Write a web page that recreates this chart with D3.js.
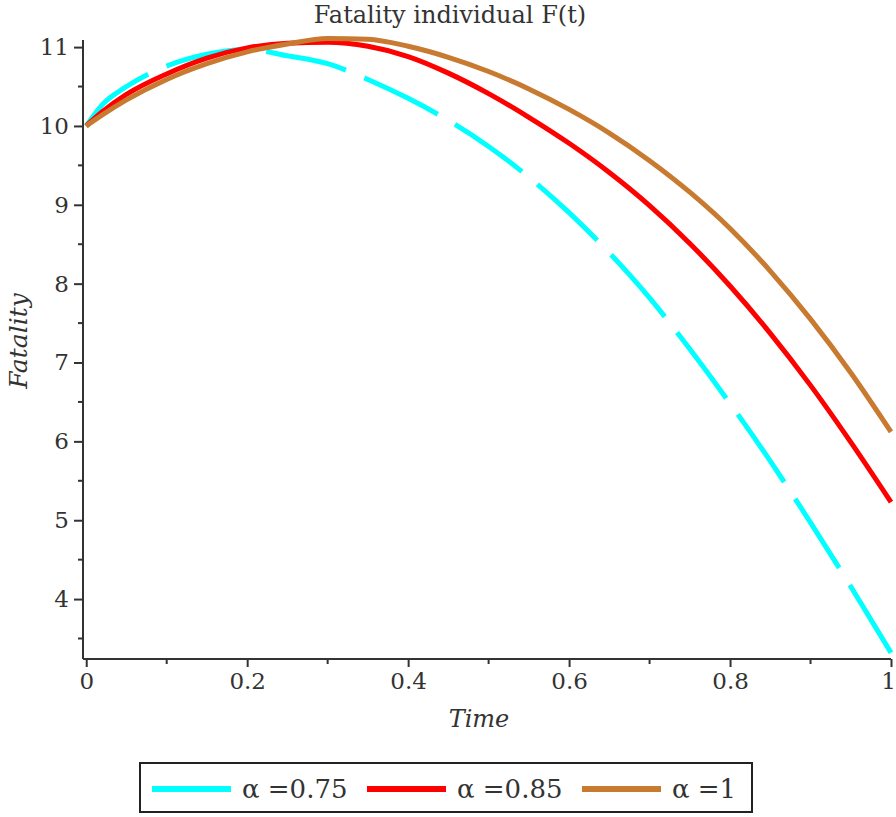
<!DOCTYPE html>
<html>
<head>
<meta charset="utf-8">
<script src="https://cdn.jsdelivr.net/npm/d3@7"></script>
<style>
  html, body { margin: 0; padding: 0; background: #fff; }
</style>
</head>
<body>
<svg id="chart" width="896" height="817"></svg>
<script>
const times = [0, 0.02, 0.05, 0.1, 0.15, 0.2, 0.25, 0.3, 0.35, 0.4, 0.45, 0.5, 0.55, 0.6, 0.65, 0.7, 0.75, 0.8, 0.85, 0.9, 0.95, 1];
const alpha075 = [10.0, 10.27, 10.50, 10.76, 10.91, 10.97, 10.89, 10.79, 10.59, 10.35, 10.07, 9.74, 9.35, 8.90, 8.39, 7.82, 7.17, 6.48, 5.75, 4.97, 4.16, 3.32];
const alpha085 = [10.0, 10.18, 10.40, 10.66, 10.86, 10.99, 11.05, 11.06, 11.01, 10.88, 10.67, 10.41, 10.11, 9.78, 9.41, 8.99, 8.51, 7.97, 7.37, 6.71, 5.99, 5.23];
const alpha1 = [10.0, 10.14, 10.33, 10.59, 10.79, 10.94, 11.04, 11.11, 11.10, 11.01, 10.87, 10.69, 10.47, 10.21, 9.91, 9.56, 9.16, 8.70, 8.16, 7.55, 6.87, 6.12];
const seriesNames = ["\u03b1 =0.75", "\u03b1 =0.85", "\u03b1 =1"];
const seriesColors = ["#00ffff", "#ff0000", "#c87b30"];
const xTicks = [0, 0.2, 0.4, 0.6, 0.8, 1];
const xTickLabels = ["0", "0.2", "0.4", "0.6", "0.8", "1"];
const yTicks = [4, 5, 6, 7, 8, 9, 10, 11];
const titleText = "Fatality individual F(t)";
const xLabel = "Time";
const yLabel = "Fatality";

const FONT = "DejaVu Serif, Liberation Serif, Noto Serif, serif";
const svg = d3.select("#chart").attr("font-family", FONT);
const x = d3.scaleLinear().domain([-0.004, 1]).range([83, 891]);
const y = d3.scaleLinear().domain([3.24, 11.09]).range([659, 40]);
const axisColor = "#333";
const textColor = "#333";

// title
svg.append("text").attr("x", 450).attr("y", 23).attr("text-anchor", "middle")
  .attr("font-family", FONT).attr("font-size", 24).attr("fill", textColor).text(titleText);

// curves
const allSeries = [alpha075, alpha085, alpha1];
const line = d3.line().x(d => x(d[0])).y(d => y(d[1])).curve(d3.curveMonotoneX);
allSeries.forEach((vals, i) => {
  const pts = times.map((t, j) => [t, vals[j]]);
  const p = svg.append("path").datum(pts).attr("d", line)
    .attr("fill", "none").attr("stroke", seriesColors[i]).attr("stroke-width", 5);
  if (i === 0) p.attr("stroke-dasharray", "82,20");
});

// axes
const xAxis = d3.axisBottom(x).tickValues(xTicks).tickFormat((d, i) => xTickLabels[i]).tickSize(8).tickPadding(6);
const gx = svg.append("g").attr("transform", "translate(0,659)").call(xAxis).attr("font-family", FONT).attr("font-size", 23);
gx.select(".domain").attr("stroke", axisColor).attr("stroke-width", 2).attr("d", `M${x.range()[0]},0H${x.range()[1]}`);
gx.selectAll(".tick line").attr("stroke", axisColor).attr("stroke-width", 2);
gx.selectAll(".tick text").attr("fill", textColor).attr("dx", d => d === 1 ? -3 : 0);
const xMinor = d3.range(0.1, 1, 0.2);
svg.append("g").selectAll("line").data(xMinor).join("line")
  .attr("x1", d => x(d)).attr("x2", d => x(d)).attr("y1", 659).attr("y2", 664)
  .attr("stroke", axisColor).attr("stroke-width", 2);

const yAxis = d3.axisLeft(y).tickValues(yTicks).tickSize(9).tickPadding(5);
const gy = svg.append("g").attr("transform", "translate(83,0)").call(yAxis).attr("font-family", FONT).attr("font-size", 23);
gy.select(".domain").attr("stroke", axisColor).attr("stroke-width", 2).attr("d", `M0,${y.range()[0]}V${y.range()[1]}`);
gy.selectAll(".tick line").attr("stroke", axisColor).attr("stroke-width", 2);
gy.selectAll(".tick text").attr("fill", textColor);
const yMinor = d3.range(3.5, 11, 1);
svg.append("g").selectAll("line").data(yMinor).join("line")
  .attr("x1", 83).attr("x2", 78).attr("y1", d => y(d)).attr("y2", d => y(d))
  .attr("stroke", axisColor).attr("stroke-width", 2);

// axis labels
svg.append("text").attr("x", 479).attr("y", 727).attr("text-anchor", "middle")
  .attr("font-family", FONT).attr("font-size", 24).attr("font-style", "italic").attr("fill", textColor).text(xLabel);
svg.append("text").attr("transform", "translate(27,341) rotate(-90)").attr("text-anchor", "middle")
  .attr("font-family", FONT).attr("font-size", 25).attr("font-style", "italic").attr("fill", textColor).text(yLabel);

// legend
const lg = svg.append("g");
lg.append("rect").attr("x", 140).attr("y", 763).attr("width", 612).attr("height", 49)
  .attr("fill", "#fff").attr("stroke", "#222").attr("stroke-width", 2);
const legendX = [152, 367, 582];
seriesNames.forEach((name, i) => {
  lg.append("line").attr("x1", legendX[i]).attr("x2", legendX[i] + 79).attr("y1", 789).attr("y2", 789)
    .attr("stroke", seriesColors[i]).attr("stroke-width", 6);
  lg.append("text").attr("x", legendX[i] + 90).attr("y", 798)
    .attr("font-family", FONT).attr("font-size", 26).attr("fill", textColor).text(name);
});
</script>
</body>
</html>
